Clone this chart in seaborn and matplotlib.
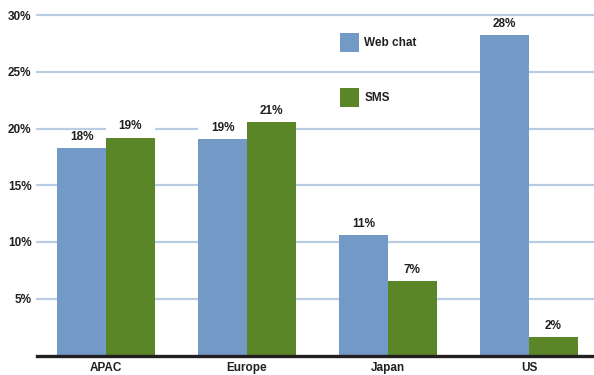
import matplotlib
matplotlib.use("Agg")
import matplotlib.pyplot as plt
from matplotlib.patches import Rectangle
import pandas as pd
import seaborn as sns

# Share of contacts by channel and region (percent)
regions = ["APAC", "Europe", "Japan", "US"]
channels = ["Web chat", "SMS"]
web_chat = [18.3, 19.1, 10.6, 28.2]
sms = [19.2, 20.6, 6.55, 1.6]
y_ticks = [5, 10, 15, 20, 25, 30]
y_tick_labels = ["5%", "10%", "15%", "20%", "25%", "30%"]

df = pd.DataFrame({
    "region": regions * 2,
    "channel": [channels[0]] * len(regions) + [channels[1]] * len(regions),
    "share": web_chat + sms,
})

sns.set_theme(style="white")
plt.rcParams["font.family"] = ["Liberation Sans", "DejaVu Sans"]
plt.rcParams["font.weight"] = "bold"

text_color = "#231F20"
palette = {"Web chat": "#7399C6", "SMS": "#5A8628"}

fig = plt.figure(figsize=(5.94, 3.75), dpi=100)
ax = fig.add_axes([37 / 594, 19.5 / 375, 557 / 594, 340.5 / 375])

sns.barplot(data=df, x="region", y="share", hue="channel", order=regions,
            hue_order=channels, palette=palette, width=0.69, saturation=1,
            linewidth=0, ax=ax, zorder=2)

ax.set_xlim(-0.489, 3.461)
ax.set_ylim(0, 30)
ax.set_yticks(y_ticks)
ax.set_yticklabels(y_tick_labels)
ax.set_xlabel("")
ax.set_ylabel("")

# horizontal guide lines
for y in y_ticks:
    ax.axhline(y, color="#B8CCE4", lw=1.6, zorder=0.5, clip_on=False)

for side in ["top", "right", "left"]:
    ax.spines[side].set_visible(False)
ax.spines["bottom"].set_color(text_color)
ax.spines["bottom"].set_linewidth(2.4)
ax.spines["bottom"].set_zorder(3)

ax.tick_params(axis="both", length=0, colors=text_color, labelsize=8.5)
ax.tick_params(axis="y", pad=4)
ax.tick_params(axis="x", pad=5)
for lbl in ax.get_xticklabels() + ax.get_yticklabels():
    lbl.set_fontweight("bold")

# value labels on a white strip the width of each bar
for container in ax.containers:
    for bar in container:
        h = bar.get_height()
        x0 = bar.get_x()
        w = bar.get_width()
        ax.add_patch(Rectangle((x0, h), w, 1.45, facecolor="white",
                               edgecolor="none", zorder=1.5))
        ax.text(x0 + w / 2, h + 0.45, f"{h:.0f}%", ha="center", va="bottom",
                fontsize=8.5, fontweight="bold", color=text_color, zorder=4)

leg = ax.legend(loc="upper left", bbox_to_anchor=(0.544, 0.947), frameon=False,
                borderpad=0, borderaxespad=0, handlelength=1.6, handleheight=2.1,
                handletextpad=0.45, labelspacing=3.05, fontsize=8.5, title=None)
for t in leg.get_texts():
    t.set_color(text_color)
    t.set_fontweight("bold")

fig.savefig("out.png", dpi=100, facecolor="white")
